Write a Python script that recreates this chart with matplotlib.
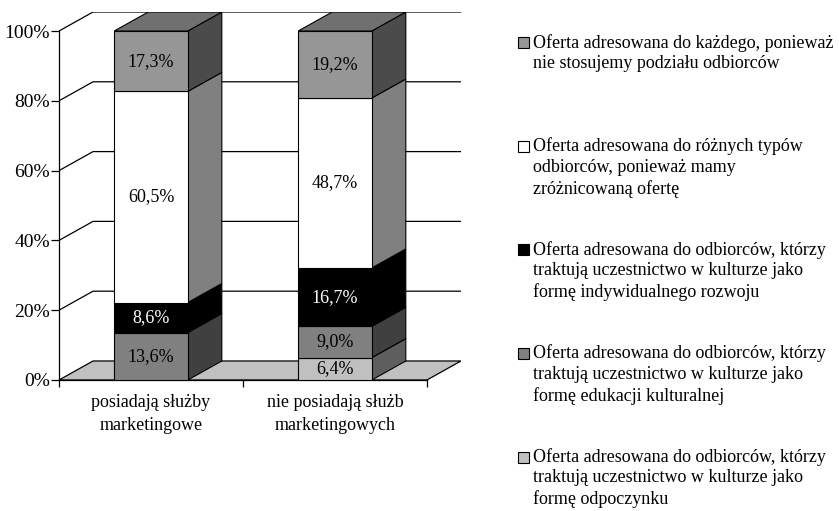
import matplotlib
matplotlib.use("Agg")
import matplotlib.pyplot as plt
from matplotlib.patches import Rectangle
import numpy as np

plt.rcParams['font.family'] = ['Liberation Serif', 'DejaVu Serif']
plt.rcParams['font.size'] = 13

# data (bottom to top in each bar)
categories = ["posiadają służby\nmarketingowe", "nie posiadają służb\nmarketingowych"]
series_names = [
    "Oferta adresowana do odbiorców, którzy\ntraktują uczestnictwo w kulturze jako\nformę odpoczynku",
    "Oferta adresowana do odbiorców, którzy\ntraktują uczestnictwo w kulturze jako\nformę edukacji kulturalnej",
    "Oferta adresowana do odbiorców, którzy\ntraktują uczestnictwo w kulturze jako\nformę indywidualnego rozwoju",
    "Oferta adresowana do różnych typów\nodbiorców, ponieważ mamy\nzróżnicowaną ofertę",
    "Oferta adresowana do każdego, ponieważ\nnie stosujemy podziału odbiorców",
]
odpoczynek = [0.0, 6.4]
edukacja = [13.6, 9.0]
rozwoj = [8.6, 16.7]
rozne = [60.5, 48.7]
kazdy = [17.3, 19.2]
values = [odpoczynek, edukacja, rozwoj, rozne, kazdy]

front_colors = ["#c0c0c0", "#808080", "#000000", "#ffffff", "#969696"]
side_colors = ["#5e5e5e", "#404040", "#000000", "#808080", "#4b4b4b"]
top_color = "#707070"
label_colors = ["black", "black", "white", "black", "black"]

W, H = 839, 511
fig = plt.figure(figsize=(W / 100, H / 100), dpi=100)

# 3D depth offset in data units
DX = 0.185
DY = 5.45
bar_w = 0.40

ax = fig.add_axes([59 / W, 1 - 380 / H, 402 / W, 368 / H])
ax.set_xlim(-0.5, 1.5 + DX)
ax.set_ylim(0, 100 + DY)

# floor
ax.fill([-0.5, 1.5, 1.5 + DX, -0.5 + DX], [0, 0, DY, DY],
        facecolor="#c0c0c0", edgecolor="black", lw=0.9, zorder=1)

# back wall gridlines
for v in range(20, 101, 20):
    ax.plot([-0.5, -0.5 + DX, 1.5 + DX], [v, v + DY, v + DY],
            color="black", lw=0.9, zorder=1, solid_capstyle="butt")

x = np.arange(len(categories))
bottom = np.zeros(len(categories))
for i, vals in enumerate(values):
    vals = np.array(vals)
    for j in range(len(x)):
        if vals[j] <= 0:
            continue
        b, t = bottom[j], bottom[j] + vals[j]
        xr = x[j] + bar_w / 2
        ax.fill([xr, xr + DX, xr + DX, xr], [b, b + DY, t + DY, t],
                facecolor=side_colors[i], edgecolor="black", lw=0.8, zorder=3)
        ax.bar(x[j], vals[j], bar_w, bottom=b, color=front_colors[i],
               edgecolor="black", lw=0.8, zorder=3)
        ax.text(x[j], b + vals[j] / 2, f"{vals[j]:.1f}%".replace(".", ","),
                ha="center", va="center", color=label_colors[i], zorder=5)
    bottom += vals

# top faces
for j in range(len(x)):
    xl, xr, t = x[j] - bar_w / 2, x[j] + bar_w / 2, bottom[j]
    ax.fill([xl, xl + DX, xr + DX, xr], [t, t + DY, t + DY, t],
            facecolor=top_color, edgecolor="black", lw=0.8, zorder=3)

# axes
for s in ["top", "right"]:
    ax.spines[s].set_visible(False)
ax.spines["left"].set_bounds(0, 100)
ax.spines["bottom"].set_bounds(-0.5, 1.5)
ax.spines["left"].set_linewidth(0.9)
ax.spines["bottom"].set_linewidth(0.9)
ax.spines["bottom"].set_zorder(2)

ax.set_yticks(range(0, 101, 20))
ax.set_yticklabels([f"{v}%" for v in range(0, 101, 20)], fontsize=14)
ax.tick_params(axis="y", direction="out", length=6, width=0.9, pad=0.5)

ax.set_xticks([-0.5, 0.5, 1.5])
ax.set_xticklabels([])
ax.tick_params(axis="x", which="major", direction="out", length=5, width=0.9)

# category labels under the bars
for j, cat in enumerate(categories):
    ax.annotate(cat, xy=(x[j], 0), xycoords=("data", "axes fraction"),
                xytext=(0, -10), textcoords="offset points",
                ha="center", va="top", linespacing=1.5)

# legend (top entry first, as in the original)
entry_y = 43
for k, i in enumerate(range(len(values) - 1, -1, -1)):
    yc = entry_y + k * 103.5
    fig.patches.append(Rectangle((518 / W, 1 - (yc + 5.5) / H), 11 / W, 11 / H,
                                 transform=fig.transFigure, facecolor=front_colors[i],
                                 edgecolor="black", lw=0.8))
    fig.text(533 / W, 1 - (yc - 9) / H, series_names[i], ha="left", va="top",
             linespacing=1.27)

fig.savefig("out.png", dpi=100)
